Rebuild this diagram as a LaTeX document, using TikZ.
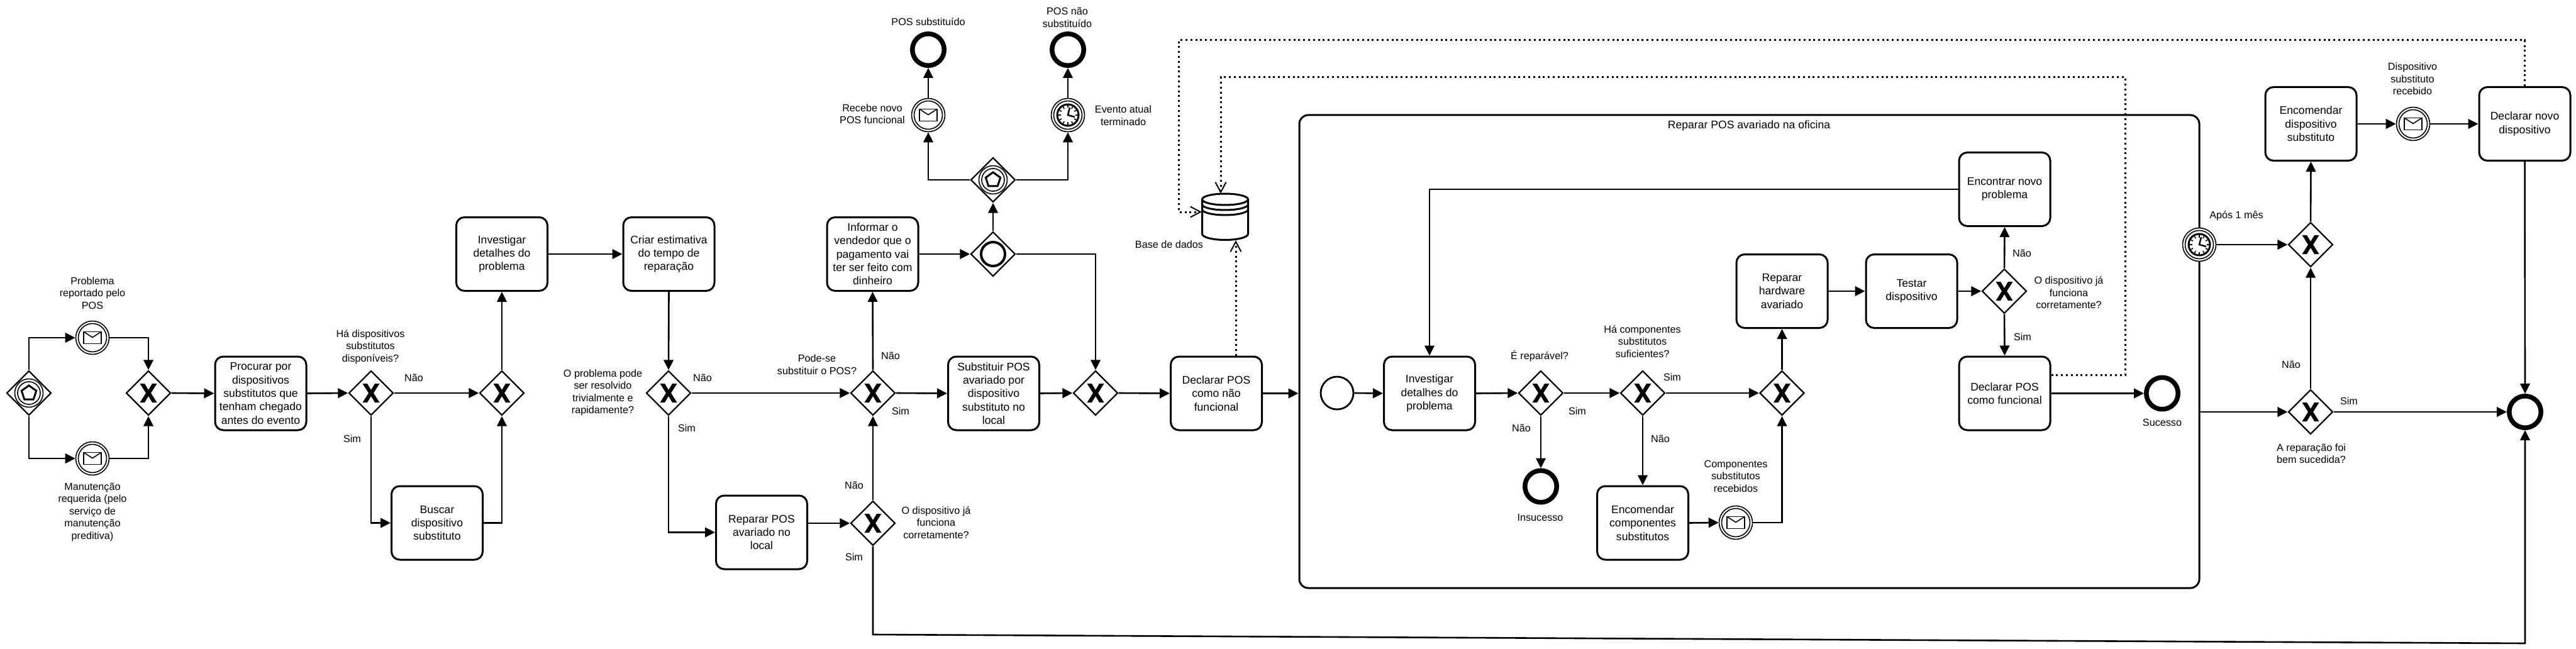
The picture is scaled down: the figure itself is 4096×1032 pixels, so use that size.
\documentclass[tikz,border=0pt]{standalone}
\usepackage{fontspec}
\setmainfont{Liberation Sans}
\usetikzlibrary{arrows.meta,shapes.geometric,calc}
\tikzset{
  taskbox/.style={draw=black,fill=white,line width=3pt,rounded corners=13pt,minimum width=145pt,minimum height=117pt,inner sep=0pt,align=center,font=\fontsize{17.6}{21.3}\selectfont},
  subbox/.style={draw=black,line width=3pt,rounded corners=14pt,minimum width=1431pt,minimum height=752pt,inner sep=0pt},
  gw/.style={draw=black,fill=white,diamond,shape aspect=1,line width=2.4pt,minimum width=71pt,minimum height=71pt,inner sep=0pt},
  evcirc/.style={draw=black,fill=white,circle,line width=1.6pt,minimum size=53pt,inner sep=0pt},
  endcirc/.style={draw=black,fill=white,circle,line width=7.5pt,minimum size=50.5pt,inner sep=0pt},
  startcirc/.style={draw=black,fill=white,circle,line width=2.8pt,minimum size=52pt,inner sep=0pt},
  lbl/.style={inner sep=0pt,align=center,font=\fontsize{16.2}{19.5}\selectfont},
  title/.style={inner sep=0pt,font=\fontsize{17.6}{21.3}\selectfont},
  flow/.style={draw=black,line width=2.6pt,-{Triangle[length=16pt,width=15.5pt]}},
  dotflow/.style={draw=black,line width=3pt,dash pattern=on 3pt off 4.8pt,-{Straight Barb[length=16pt,width=17pt,line width=2pt]}},
  inner/.style={draw=black,line width=1.6pt},
}
\newcommand{\bpmnXor}[3]{%
  \node[gw] (#1) at (#2,#3) {};
  \fill[black,shift={(#1.center)}] (-13.5,-15) -- (-6,-15) -- (0,-5) -- (6,-15) -- (13.5,-15) -- (4,0) -- (13.5,15) -- (6,15) -- (0,5) -- (-6,15) -- (-13.5,15) -- (-4,0) -- cycle;
}
\newcommand{\bpmnEvGw}[3]{%
  \node[gw] (#1) at (#2,#3) {};
  \begin{scope}[shift={(#1.center)}]
    \draw[inner] (0,0) circle[radius=22.5];
    \draw[inner] (0,0) circle[radius=18];
    \draw[black,line width=3pt,line join=miter] (0,-12) -- (11.7,-3.6) -- (7.2,10) -- (-7.2,10) -- (-11.7,-3.6) -- cycle;
  \end{scope}
}
\newcommand{\bpmnIncGw}[3]{%
  \node[gw] (#1) at (#2,#3) {};
  \draw[black,line width=4pt,shift={(#1.center)}] (0,0) circle[radius=19];
}
\newcommand{\bpmnMsg}[3]{%
  \node[evcirc] (#1) at (#2,#3) {};
  \begin{scope}[shift={(#1.center)}]
    \draw[inner] (0,0) circle[radius=22.5];
    \draw[inner] (-14,-9.5) rectangle (14,9.5);
    \draw[inner] (-14,-9.5) -- (0,-0.5) -- (14,-9.5);
  \end{scope}
}
\newcommand{\bpmnTimer}[3]{%
  \node[evcirc] (#1) at (#2,#3) {};
  \begin{scope}[shift={(#1.center)}]
    \draw[inner] (0,0) circle[radius=22.5];
    \draw[black,line width=3pt] (0,0) circle[radius=17];
    \foreach \a in {0,30,...,330}{\draw[black,line width=1.5pt] (\a:11.5) -- (\a:16);}
    \draw[black,line width=2.5pt] (3,-12) -- (0,0) -- (11,3);
  \end{scope}
}
\begin{document}
\begin{tikzpicture}[x=1pt,y=-1pt]
\useasboundingbox (0,0) rectangle (4096,1032);
\fill[white] (0,0) rectangle (4096,1032);

% sub-process
\node[subbox] (sub) at (2781.5,559) {};
\node[title] (subt) at (2781,199.5) {Reparar POS avariado na oficina};

% left part
\bpmnEvGw{ga}{46}{625}
\bpmnMsg{ma}{147}{537}
\bpmnMsg{mb}{147}{729}
\bpmnXor{xa}{236}{625}
\node[taskbox] (procurar) at (414.5,625.5) {Procurar por\\dispositivos\\substitutos que\\tenham chegado\\antes do evento};
\bpmnXor{xb}{590}{625}
\bpmnXor{xc}{798}{625}
\node[taskbox] (buscar) at (695,831.5) {Buscar\\dispositivo\\substituto};
\node[taskbox] (invA) at (798,404) {Investigar\\detalhes do\\problema};
\node[taskbox] (criar) at (1063.5,404) {Criar estimativa\\do tempo de\\reparação};
\bpmnXor{xd}{1063}{625}
\bpmnXor{xe}{1388}{625}
\node[taskbox] (reparar) at (1211,846.5) {Reparar POS\\avariado no\\local};
\bpmnXor{xf}{1388}{832}
\node[taskbox] (informar) at (1387.5,404) {Informar o\\vendedor que o\\pagamento vai\\ter ser feito com\\dinheiro};
\bpmnIncGw{gi}{1579}{404}
\bpmnEvGw{gb}{1579}{286}
\bpmnMsg{mc}{1476}{183}
\bpmnTimer{ta}{1698}{183}
\node[endcirc] (ea) at (1476,79) {};
\node[endcirc] (eb) at (1698,79) {};
\node[taskbox] (subst) at (1580,625.5) {Substituir POS\\avariado por\\dispositivo\\substituto no\\local};
\bpmnXor{xg}{1742}{625}
\node[taskbox] (declnf) at (1934,625.5) {Declarar POS\\como não\\funcional};

% data store
\node[minimum width=74pt,minimum height=74pt,inner sep=0pt] (db) at (1948,345) {};
\begin{scope}[shift={(db.center)}]
  \draw[black,fill=white,line width=3pt] (-36.5,-28) -- (-36.5,27) arc[start angle=180,end angle=360,x radius=36.5pt,y radius=9.5pt] -- (36.5,-28);
  \draw[black,fill=white,line width=3pt] (0,-28) ellipse[x radius=36.5pt,y radius=9pt];
  \draw[black,line width=3pt] (-36.5,-20) arc[start angle=180,end angle=360,x radius=36.5pt,y radius=9pt];
  \draw[black,line width=3pt] (-36.5,-12) arc[start angle=180,end angle=360,x radius=36.5pt,y radius=9pt];
\end{scope}

% inside sub-process
\node[startcirc] (st) at (2126,625) {};
\node[taskbox] (invB) at (2273,625.5) {Investigar\\detalhes do\\problema};
\bpmnXor{xh}{2450}{625}
\bpmnXor{xi}{2612}{625}
\bpmnXor{xj}{2833.5}{625}
\node[endcirc] (ec) at (2450,773.5) {};
\node[taskbox] (enc) at (2612,831.5) {Encomendar\\componentes\\substitutos};
\bpmnMsg{md}{2760}{831}
\node[taskbox] (rephw) at (2833.5,463) {Reparar\\hardware\\avariado};
\node[taskbox] (testar) at (3039.5,463) {Testar\\dispositivo};
\bpmnXor{xk}{3187}{463}
\node[taskbox] (encontrar) at (3187.5,301) {Encontrar novo\\problema};
\node[taskbox] (declf) at (3187.5,625.5) {Declarar POS\\como funcional};
\node[endcirc] (ed) at (3438,625.5) {};

% right part
\bpmnTimer{tb}{3497}{389}
\bpmnXor{xl}{3674}{389}
\bpmnXor{xm}{3674}{655}
\node[taskbox] (encd) at (3674.5,197) {Encomendar\\dispositivo\\substituto};
\bpmnMsg{me}{3837}{197}
\node[taskbox] (decln) at (4014.5,197) {Declarar novo\\dispositivo};
\node[endcirc] (ee) at (4015,655) {};
\coordinate (bl) at (1388,1009);
\coordinate (br) at (4015,1023);

% labels
\node[lbl] (la) at (147,466) {Problema\\reportado pelo\\POS};
\node[lbl] (lb) at (147,814) {Manutenção\\requerida (pelo\\serviço de\\manutenção\\preditiva)};
\node[lbl] (lc) at (589,551.5) {Há dispositivos\\substitutos\\disponíveis?};
\node[lbl] (ld) at (658,601) {Não};
\node[lbl] (le) at (560,698) {Sim};
\node[lbl] (lf) at (958.5,624.5) {O problema pode\\ser resolvido\\trivialmente e\\rapidamente?};
\node[lbl] (lg) at (1117,601) {Não};
\node[lbl] (lh) at (1092,681) {Sim};
\node[lbl] (li) at (1299,579.5) {Pode-se\\substituir o POS?};
\node[lbl] (lj) at (1416,565.5) {Não};
\node[lbl] (lk) at (1432,654) {Sim};
\node[lbl] (ll) at (1358,771.5) {Não};
\node[lbl] (lm) at (1488.5,831) {O dispositivo já\\funciona\\corretamente?};
\node[lbl] (ln) at (1358,885.5) {Sim};
\node[lbl] (lo) at (1476,34.7) {POS substituído};
\node[lbl] (lp) at (1697,28) {POS não\\substituído};
\node[lbl] (lq) at (1387,181) {Recebe novo\\POS funcional};
\node[lbl] (lr) at (1786,183.7) {Evento atual\\terminado};
\node[lbl] (ls) at (1859,388.7) {Base de dados};
\node[lbl] (lt) at (2448,566) {É reparável?};
\node[lbl] (lu) at (2611.6,543) {Há componentes\\substitutos\\suficientes?};
\node[lbl] (lv) at (2659,600) {Sim};
\node[lbl] (lw) at (2508,653.6) {Sim};
\node[lbl] (lx) at (2419,680.6) {Não};
\node[lbl] (ly) at (2640,697.5) {Não};
\node[lbl] (lz) at (2449,823.5) {Insucesso};
\node[lbl] (maa) at (2760,757) {Componentes\\substitutos\\recebidos};
\node[lbl] (mab) at (3215,402.5) {Não};
\node[lbl] (mac) at (3289.5,465.3) {O dispositivo já\\funciona\\corretamente?};
\node[lbl] (mad) at (3216,535.7) {Sim};
\node[lbl] (mae) at (3556,343.6) {Após 1 mês};
\node[lbl] (maf) at (3836,125.7) {Dispositivo\\substituto\\recebido};
\node[lbl] (mag) at (3643,580) {Não};
\node[lbl] (mah) at (3735,637.4) {Sim};
\node[lbl] (mai) at (3675,721) {A reparação foi\\bem sucedida?};
\node[lbl] (maj) at (3438,671.7) {Sucesso};

% connectors
\draw[flow] (ga.north) |- (ma.west);
\draw[flow] (ga.south) |- (mb.west);
\draw[flow] (ma.east) -| (xa.north);
\draw[flow] (mb.east) -| (xa.south);
\draw[flow] (xa.east) -- (procurar.west);
\draw[flow] (procurar.east) -- (xb.west);
\draw[flow] (xb.east) -- (xc.west);
\draw[flow] (xb.south) |- (buscar.west);
\draw[flow] (buscar.east) -| (xc.south);
\draw[flow] (xc.north) -- (invA.south);
\draw[flow] (invA.east) -- (criar.west);
\draw[flow] (criar.south) -- (xd.north);
\draw[flow] (xd.east) -- (xe.west);
\draw[flow] (xd.south) |- (reparar.west);
\draw[flow] (reparar.east |- xf.west) -- (xf.west);
\draw[flow] (xf.north) -- (xe.south);
\draw[flow] (xe.north) -- (informar.south);
\draw[flow] (xe.east) -- (subst.west);
\draw[flow] (subst.east) -- (xg.west);
\draw[flow] (informar.east) -- (gi.west);
\draw[flow] (gi.north) -- (gb.south);
\draw[flow] (gi.east) -| (xg.north);
\draw[flow] (gb.west) -| (mc.south);
\draw[flow] (gb.east) -| (ta.south);
\draw[flow] (mc.north) -- (ea.south);
\draw[flow] (ta.north) -- (eb.south);
\draw[flow] (xg.east) -- (declnf.west);
\draw[flow] (declnf.east) -- (declnf.east -| sub.west);
\draw[flow] (st.east) -- (invB.west);
\draw[flow] (invB.east) -- (xh.west);
\draw[flow] (xh.south) -- (ec.north);
\draw[flow] (xh.east) -- (xi.west);
\draw[flow] (xi.east) -- (xj.west);
\draw[flow] (xi.south) -- (enc.north);
\draw[flow] (enc.east) -- (md.west);
\draw[flow] (md.east) -| (xj.south);
\draw[flow] (xj.north) -- (rephw.south);
\draw[flow] (rephw.east) -- (testar.west);
\draw[flow] (testar.east) -- (xk.west);
\draw[flow] (xk.north) -- (encontrar.south);
\draw[flow] (xk.south) -- (declf.north);
\draw[flow] (encontrar.west) -| (invB.north);
\draw[flow] (declf.east) -- (ed.west);
\draw[flow] (tb.east) -- (xl.west);
\draw[flow] (xl.north) -- (encd.south);
\draw[flow] (encd.east) -- (me.west);
\draw[flow] (me.east) -- (decln.west);
\draw[flow] (decln.south) -- (ee.north);
\draw[flow] (sub.east |- xm.west) -- (xm.west);
\draw[flow] (xm.north) -- (xl.south);
\draw[flow] (xm.east) -- (ee.west);
\draw[flow] (xf.south) -- (bl) -- (br) -- (ee.south);
% associations
\draw[dotflow] (decln.north) -- (4014.5,64) -- (1874,64) -- (1874,337) -- (db.west |- 0,337);
\draw[dotflow] (declf.east |- 0,596) -- (3379,596) -- (3379,123) -- (1941,123) -- (1941,0 |- db.north);
\draw[dotflow] (1965,0 |- declnf.north) -- (1965,0 |- db.south);
\end{tikzpicture}
\end{document}
